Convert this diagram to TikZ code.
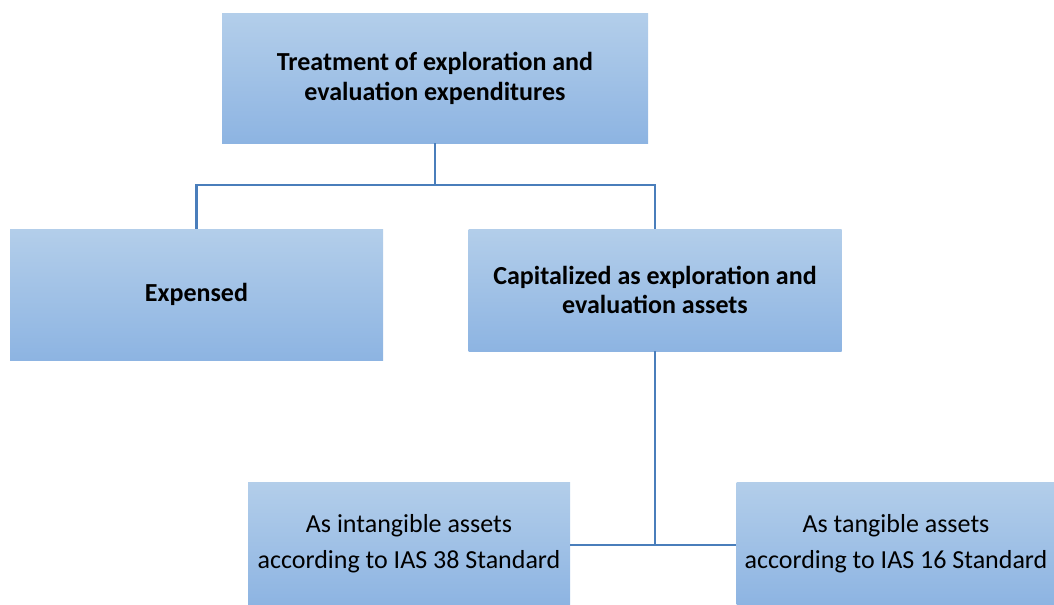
\documentclass[tikz,border=0pt]{standalone}
\usepackage{fontspec}
\setmainfont{Carlito}
\usetikzlibrary{calc,positioning}

\definecolor{boxtop}{HTML}{B3CEEA}
\definecolor{boxbot}{HTML}{8DB4E2}
\definecolor{linkcol}{HTML}{4A7EBB}

\begin{document}
\begin{tikzpicture}[
        , box/.style={ top color=boxtop, bottom color=boxbot, draw=none,
            align=center, inner sep=2mm, font=\fontsize{18.5}{21}\selectfont }
        , headbox/.style={ box, font=\fontsize{18.5}{21}\selectfont\bfseries }
        , leafbox/.style={ box, font=\fontsize{18.5}{25.5}\selectfont }
        , link/.style={ draw=linkcol, line width=1.5pt }
        ]
        \useasboundingbox (0,0) rectangle (26.35,-15.125);

        % top of the tree
        \node[headbox, minimum width=10.65cm, minimum height=3.225cm] (treat)
            at (10.875,-1.9625) {Treatment of exploration and\\evaluation expenditures};

        % the two ways to treat them
        \node[headbox, minimum width=9.325cm, minimum height=3.275cm] (exp)
            at (4.9125,-7.3625) {Expensed};
        \node[headbox, minimum width=9.325cm, minimum height=3.05cm] (cap)
            at (16.375,-7.25) {Capitalized as exploration and\\evaluation assets};

        % capitalized assets split by standard
        \node[leafbox, minimum width=8.05cm, minimum height=3.075cm] (intang)
            at (10.225,-13.5875) {As intangible assets\\according to IAS 38 Standard};
        \node[leafbox, minimum width=7.9cm, minimum height=3.075cm] (tang)
            at (22.4,-13.5875) {As tangible assets\\according to IAS 16 Standard};

        \coordinate (split) at (treat.south |- 0,-4.625);
        \coordinate (join) at (cap.south |- 0,-13.625);

        \path[link] (treat.south) -- (split);
        \path[link] (split) -| (exp.north);
        \path[link] (split) -| (cap.north);

        \path[link] (cap.south) -- (join);
        \path[link] (intang.east |- join) -- (tang.west |- join);

    \end{tikzpicture}
\end{document}
